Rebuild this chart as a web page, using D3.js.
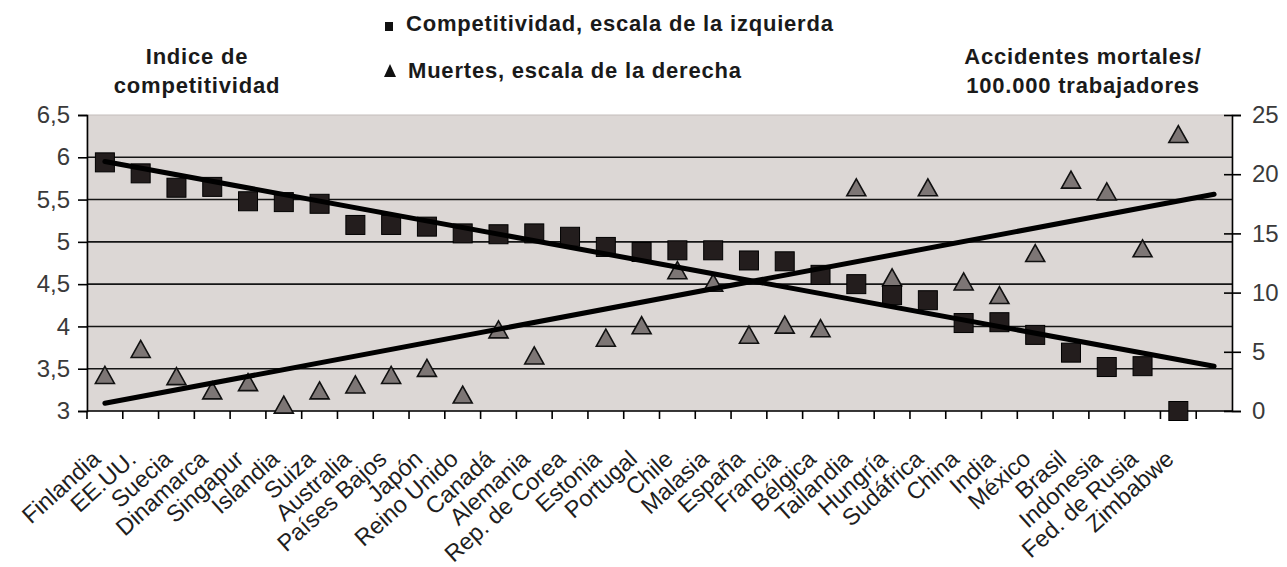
<!DOCTYPE html>
<html>
<head>
<meta charset="utf-8">
<script src="https://cdn.jsdelivr.net/npm/d3@7"></script>
<style>
  body { margin: 0; background: #fff; }
  text { font-family: Arial, "Liberation Sans", sans-serif; }
</style>
</head>
<body>
<div id="viz"></div>
<script>
// datos
var paises = ['Finlandia', 'EE.UU.', 'Suecia', 'Dinamarca', 'Singapur', 'Islandia', 'Suiza',
  'Australia', 'Países Bajos', 'Japón', 'Reino Unido', 'Canadá', 'Alemania', 'Rep. de Corea',
  'Estonia', 'Portugal', 'Chile', 'Malasia', 'España', 'Francia', 'Bélgica', 'Tailandia',
  'Hungría', 'Sudáfrica', 'China', 'India', 'México', 'Brasil', 'Indonesia', 'Fed. de Rusia', 'Zimbabwe'];

var competitividad = [5.94, 5.81, 5.64, 5.65, 5.48, 5.47, 5.45, 5.20, 5.20, 5.18, 5.10, 5.09,
  5.10, 5.06, 4.94, 4.88, 4.90, 4.90, 4.78, 4.77, 4.61, 4.50, 4.37, 4.31, 4.04, 4.05, 3.90,
  3.69, 3.52, 3.53, 3.00];

var muertes = [3.0, 5.2, 2.9, 1.7, 2.4, 0.5, 1.7, 2.2, 3.0, 3.6, 1.35, 6.85, 4.65, null, 6.15,
  7.2, 11.85, 10.8, 6.4, 7.25, 6.95, 18.85, 11.25, 18.85, 10.9, 9.75, 13.3, 19.5, 18.5, 13.7, 23.35];

// lineas de tendencia (inicio en Finlandia, fin en la ultima casilla vacia)
var tendenciaComp = [5.95, 3.53];
var tendenciaMuertes = [0.65, 18.3];

var ticksIzq = [3, 3.5, 4, 4.5, 5, 5.5, 6, 6.5];
var ticksDer = [0, 5, 10, 15, 20, 25];

var width = 1287,
    height = 567,
    margin = { top: 115, right: 55, bottom: 156, left: 87 },
    fondo = '#dcd7d5';

var ranuras = paises.concat([' ']);

var svg = d3.select('#viz').append('svg')
    .attr('width', width)
    .attr('height', height);

var x = d3.scaleBand()
    .domain(ranuras)
    .range([margin.left, width - margin.right]);

var yIzq = d3.scaleLinear()
    .domain([3, 6.5])
    .range([height - margin.bottom, margin.top]);

var yDer = d3.scaleLinear()
    .domain([0, 25])
    .range([height - margin.bottom, margin.top]);

var cx = function(i) { return x(ranuras[i]) + x.bandwidth() / 2; };

// fondo del area de trazado
svg.append('rect')
    .attr('x', margin.left)
    .attr('y', margin.top)
    .attr('width', width - margin.left - margin.right)
    .attr('height', height - margin.top - margin.bottom)
    .style('fill', fondo)
    .style('stroke', '#c4bebc')
    .style('stroke-width', 1);

// lineas de cuadricula
svg.append('g').selectAll('line')
    .data(ticksIzq.filter(function(d) { return d > 3 && d < 6.5; }))
    .enter().append('line')
    .attr('x1', margin.left)
    .attr('x2', width - margin.right)
    .attr('y1', function(d) { return yIzq(d); })
    .attr('y2', function(d) { return yIzq(d); })
    .style('stroke', '#151515')
    .style('stroke-width', 1.6);

// eje izquierdo
var ejeIzq = svg.append('g')
    .attr('transform', 'translate(' + margin.left + ',0)')
    .call(d3.axisLeft(yIzq)
        .tickValues(ticksIzq)
        .tickFormat(function(d) { return String(d).replace('.', ','); })
        .tickSizeOuter(0)
        .tickSize(9)
        .tickPadding(8));

// eje derecho
var ejeDer = svg.append('g')
    .attr('transform', 'translate(' + (width - margin.right) + ',0)')
    .call(d3.axisRight(yDer)
        .tickValues(ticksDer)
        .tickSizeOuter(0)
        .tickSize(9)
        .tickPadding(11));
ejeDer.selectAll('.tick line').attr('x1', -8);

[ejeIzq, ejeDer].forEach(function(g) {
    g.select('.domain').style('stroke', '#000').style('stroke-width', 1.6);
    g.selectAll('.tick line').style('stroke', '#000').style('stroke-width', 1.6);
    g.selectAll('.tick text')
        .style('font-size', '24px')
        .style('fill', '#3a3a3a');
});

// eje inferior
var base = height - margin.bottom;
svg.append('line')
    .attr('x1', margin.left).attr('x2', width - margin.right)
    .attr('y1', base).attr('y2', base)
    .style('stroke', '#000').style('stroke-width', 1.6);

svg.append('g').selectAll('line')
    .data(ranuras)
    .enter().append('line')
    .attr('x1', function(d) { return x(d); })
    .attr('x2', function(d) { return x(d); })
    .attr('y1', base)
    .attr('y2', base + 8)
    .style('stroke', '#000')
    .style('stroke-width', 1.6);

svg.append('g').selectAll('text')
    .data(paises)
    .enter().append('text')
    .attr('transform', function(d) {
        return 'translate(' + (x(d) + x.bandwidth() / 2 - 3) + ',' + (base + 50) + ') rotate(-42)';
    })
    .attr('text-anchor', 'end')
    .style('font-size', '23.5px')
    .style('fill', '#1e1e1e')
    .text(function(d) { return d; });

// triangulos (muertes, escala derecha)
var tri = 'M-9.5,8L9.5,8L0,-9Z';
var puntosMuertes = muertes
    .map(function(v, i) { return { i: i, v: v }; })
    .filter(function(p) { return p.v !== null; });

svg.append('g').selectAll('path')
    .data(puntosMuertes)
    .enter().append('path')
    .attr('d', tri)
    .attr('transform', function(p) {
        return 'translate(' + cx(p.i) + ',' + yDer(p.v) + ')';
    })
    .style('fill', '#7d7675')
    .style('stroke', '#111')
    .style('stroke-width', 1.6);

// cuadrados (competitividad, escala izquierda)
svg.append('g').selectAll('rect')
    .data(competitividad)
    .enter().append('rect')
    .attr('x', function(d, i) { return cx(i) - 9.5; })
    .attr('y', function(d) { return yIzq(d) - 9.5; })
    .attr('width', 19)
    .attr('height', 19)
    .style('fill', '#231d1d')
    .style('stroke', '#000')
    .style('stroke-width', 1);

// tendencias
var extremos = [0, ranuras.length - 1];
var linea = d3.line();
svg.append('path')
    .attr('d', linea(extremos.map(function(k, j) { return [cx(k), yIzq(tendenciaComp[j])]; })))
    .style('stroke', '#000').style('stroke-width', 5).style('stroke-linecap', 'round').style('fill', 'none');
svg.append('path')
    .attr('d', linea(extremos.map(function(k, j) { return [cx(k), yDer(tendenciaMuertes[j])]; })))
    .style('stroke', '#000').style('stroke-width', 5).style('stroke-linecap', 'round').style('fill', 'none');

// titulos y leyenda
var titulo = function(txt, xx, yy, anchor) {
    svg.append('text')
        .attr('x', xx).attr('y', yy)
        .attr('text-anchor', anchor)
        .style('font-size', '22px')
        .style('font-weight', 'bold')
        .style('letter-spacing', '0.8px')
        .style('fill', '#1a1a1a')
        .text(txt);
};
titulo('Indice de', 197, 64, 'middle');
titulo('competitividad', 197, 93, 'middle');
titulo('Accidentes mortales/', 1083, 64, 'middle');
titulo('100.000 trabajadores', 1083, 93, 'middle');
titulo('Competitividad, escala de la izquierda', 406, 31, 'start');
titulo('Muertes, escala de la derecha', 408, 78, 'start');

svg.append('rect')
    .attr('x', 385).attr('y', 22).attr('width', 8).attr('height', 9)
    .style('fill', '#111');
svg.append('path')
    .attr('d', 'M-6,6L6,6L0,-7Z')
    .attr('transform', 'translate(390,71)')
    .style('fill', '#111');
</script>
</body>
</html>
